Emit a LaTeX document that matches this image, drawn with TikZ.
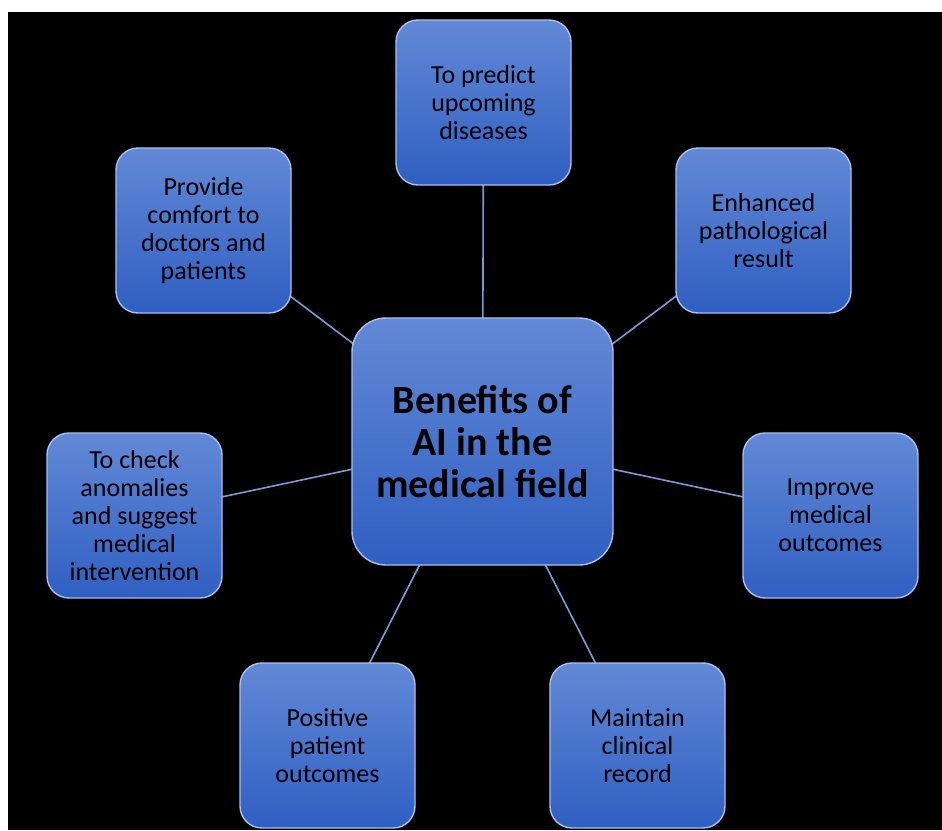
\documentclass[tikz,border=0pt]{standalone}
\usepackage{fontspec}
\setmainfont{Carlito}
\definecolor{boxtop}{HTML}{6289D6}
\definecolor{boxbot}{HTML}{2F5FC2}
\definecolor{boxedge}{HTML}{A8C0EE}
\definecolor{linkc}{HTML}{7C9AD4}
\begin{document}
\begin{tikzpicture}[x=1pt,y=-1pt,
  leaf/.style={rounded corners=22pt, top color=boxtop, bottom color=boxbot,
    draw=boxedge, line width=1.4pt, minimum width=175pt, minimum height=165pt,
    align=center, font=\fontsize{26}{28}\selectfont, text=black, inner sep=0pt},
  hub/.style={leaf, rounded corners=34pt, minimum width=261pt, minimum height=247pt,
    font=\fontsize{40}{42}\selectfont\bfseries},
  link/.style={draw=linkc, line width=1.6pt}]
\useasboundingbox (0,0) rectangle (942,830);
\fill[white] (0,0) rectangle (942,830);
\fill[black] (8,12) rectangle (942,830);
\coordinate (pc) at (482.5,441.5);
\coordinate (pt) at (483.5,102.5);
\coordinate (ptr) at (763.5,230.5);
\coordinate (ptl) at (203.5,230.5);
\coordinate (pl) at (134.5,515.5);
\coordinate (pr) at (830.5,515.5);
\coordinate (pbl) at (327.5,745.5);
\coordinate (pbr) at (637.5,745.5);
\foreach \p in {pt,ptr,ptl,pl,pr,pbl,pbr} \draw[link] (pc) -- (\p);
\node[hub] (c) at (pc) {Benefits of\\AI in the\\medical field};
\node[leaf] (t) at (pt) {To predict\\upcoming\\diseases};
\node[leaf] (tr) at (ptr) {Enhanced\\pathological\\result};
\node[leaf] (tl) at (ptl) {Provide\\comfort to\\doctors and\\patients};
\node[leaf] (l) at (pl) {To check\\anomalies\\and suggest\\medical\\intervention};
\node[leaf] (r) at (pr) {Improve\\medical\\outcomes};
\node[leaf] (bl) at (pbl) {Positive\\patient\\outcomes};
\node[leaf] (br) at (pbr) {Maintain\\clinical\\record};
\end{tikzpicture}
\end{document}
